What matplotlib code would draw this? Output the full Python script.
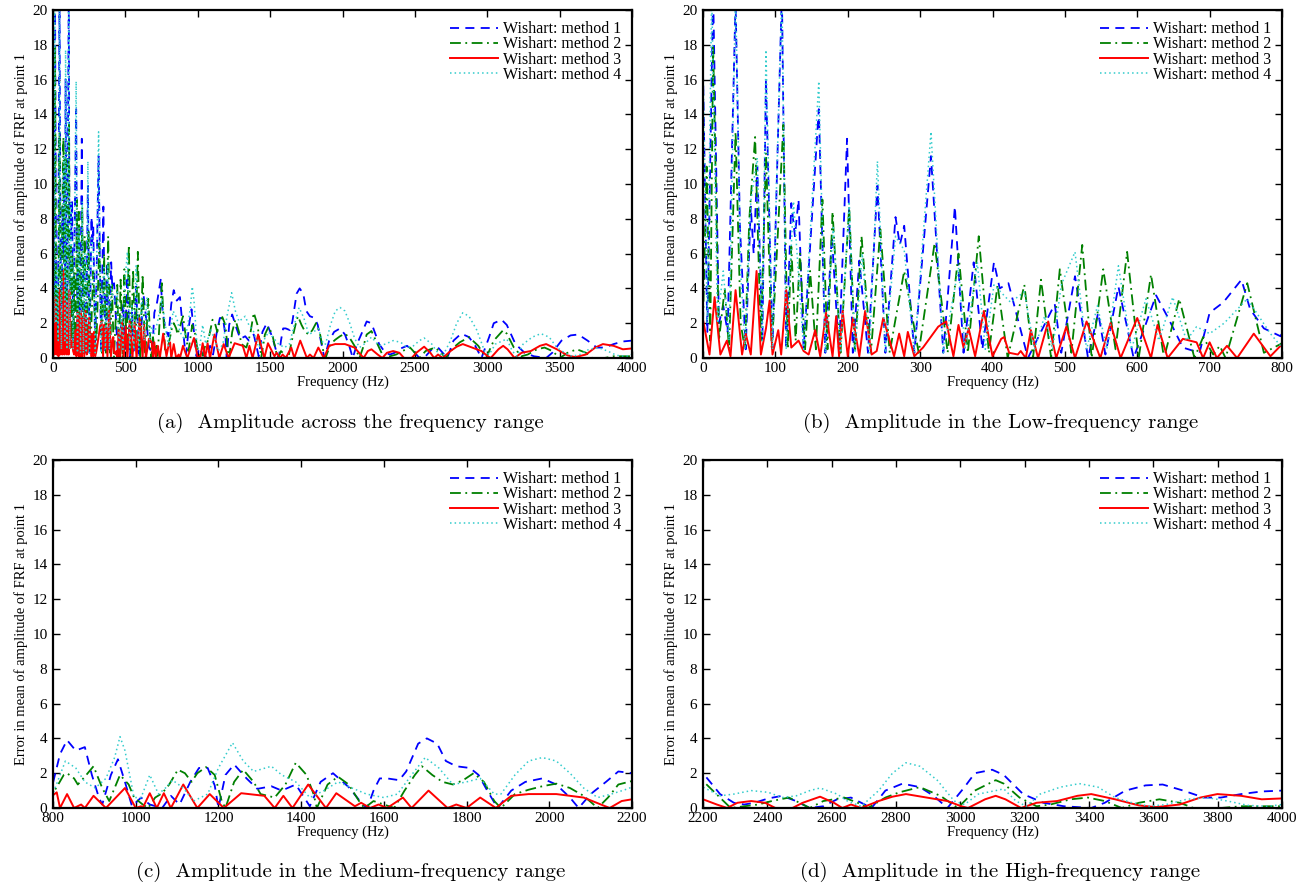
import matplotlib
matplotlib.use('Agg')
import matplotlib.pyplot as plt

# --- DATA ---
m1_freq = [0, 6, 14, 22, 28, 34, 45, 51, 59, 66, 70, 75, 82, 87, 96, 101, 109, 115, 122, 127,
           132, 139, 160, 169, 178, 188, 199, 207, 216, 228, 241, 252, 266, 272, 278, 292, 315,
           332, 348, 360, 374, 386, 402, 410, 422, 449, 486, 495, 514, 532, 546, 556, 574, 595,
           626, 644, 663, 686, 700, 719, 744, 756, 775, 798,
           817, 834, 855, 877, 894, 911, 919, 940, 957, 974, 991, 1013, 1034, 1064, 1085, 1106,
           1132, 1153, 1174, 1191, 1200, 1217, 1238, 1268, 1294, 1328, 1353, 1387, 1421, 1447,
           1477, 1515, 1549, 1560, 1575, 1590, 1608, 1637, 1654, 1683, 1704, 1729, 1750, 1775,
           1808, 1829, 1850, 1875, 1908, 1942, 1983, 2017, 2050, 2071, 2100, 2137, 2167, 2200,
           2253, 2296, 2328, 2360, 2403, 2446, 2489, 2532, 2574, 2617, 2660, 2703, 2724, 2767,
           2820, 2874, 2917, 2960, 3013, 3045, 3099, 3135, 3195, 3258, 3322, 3407, 3449, 3513,
           3576, 3629, 3693, 3757, 3810, 3873, 3937, 4000]
m1_err = [16.5, 1.5, 21, 2.0, 3.0, 1.5, 20.5, 7.6, 0.5, 8.7, 6.0, 11.0, 1.0, 16.0, 0.5, 8.7, 21, 0.5, 8.9, 7.0,
          9.1, 0.5, 14.3, 0.3, 7.0, 0.3, 12.6, 0.3, 5.6, 0.3, 9.9, 0.3, 8.1, 6.5, 7.6, 0.3, 11.6,
          0.3, 8.7, 0.3, 5.5, 0.5, 5.5, 4.0, 4.3, 0.0, 3.1, 0.3, 4.7, 0.0, 2.6, 0.2, 4.1, 0.0,
          3.6, 2.2, 0.6, 0.3, 2.6, 3.2, 4.5, 2.8, 1.7, 1.25,
          3.1, 3.9, 3.3, 3.5, 1.9, 0.6, 0.2, 1.9, 2.8, 1.5, 0.1, 0.6, 0.2, 0.0, 0.7, 0.2,
          1.5, 2.3, 2.3, 1.3, 0.0, 1.9, 2.5, 1.7, 1.1, 1.25, 1.0, 1.35, 0.1, 1.5,
          2.0, 1.2, 0.2, 0.0, 1.0, 1.7, 1.7, 1.6, 2.1, 3.7, 4.0, 3.7, 2.7, 2.4,
          2.3, 1.9, 1.0, 0.0, 1.0, 1.5, 1.7, 1.35, 0.6, 0.0, 0.8, 1.5, 2.1, 2.0,
          0.8, 0.3, 0.2, 0.3, 0.55, 0.7, 0.4, 0.0, 0.1, 0.5, 0.6, 0.2, 0.0, 1.0,
          1.4, 1.2, 0.7, 0.0, 1.2, 2.0, 2.2, 1.9, 0.8, 0.3, 0.1, 0.0, 0.3, 1.0,
          1.3, 1.35, 1.0, 0.6, 0.6, 0.8, 0.95, 1.0]

m2_freq = [0, 5, 10, 14, 22, 30, 36, 45, 52, 58, 64, 72, 80, 87, 95, 102, 111, 117, 122, 128,
           134, 141, 148, 156, 165, 172, 179, 190, 202, 210, 219, 232, 245, 258, 265, 278, 298,
           320, 338, 353, 366, 381, 395, 407, 421, 444, 456, 467, 481, 493, 509, 524, 537, 553,
           570, 586, 602, 619, 637, 658, 679, 691, 705, 714, 722, 752, 775, 798,
           809, 826, 834, 851, 860, 877, 898, 919, 936, 962, 983, 996, 1017, 1030, 1047, 1064,
           1081, 1102, 1119, 1135, 1149, 1170, 1191, 1208, 1217, 1238, 1260, 1285, 1302, 1336,
           1362, 1387, 1413, 1430, 1438, 1464, 1489, 1515, 1540, 1553, 1575, 1600, 1625, 1650,
           1675, 1692, 1717, 1742, 1767, 1792, 1817, 1842, 1867, 1883, 1917, 1950, 1983, 2017,
           2050, 2083, 2117, 2142, 2167, 2200,
           2253, 2286, 2328, 2371, 2414, 2467, 2500, 2532, 2574, 2639, 2681, 2713, 2767, 2810,
           2874, 2938, 2992, 3045, 3110, 3135, 3184, 3237, 3280, 3343, 3396, 3449, 3502, 3555,
           3619, 3682, 3725, 3810, 3873, 3958, 4000]
m2_err = [2.0, 11.0, 1.0, 18.0, 1.0, 4.0, 0.5, 13.0, 2.0, 0.5, 8.0, 12.7, 1.0, 11.8, 0.5, 6.0, 13.4, 0.5, 6.4, 1.0,
          6.0, 0.5, 5.0, 0.5, 9.1, 0.5, 8.4, 0.3, 8.7, 0.3, 7.0, 0.3, 7.4, 0.3, 2.0, 5.0, 0.3,
          6.6, 0.3, 6.0, 0.3, 7.0, 0.3, 4.2, 0.0, 4.2, 0.0, 4.5, 0.0, 5.1, 0.3, 6.5, 0.0, 5.1,
          0.5, 6.1, 0.0, 4.8, 0.0, 3.4, 0.0, 1.2, 0.2, 0.7, 0.0, 4.3, 0.3, 0.8,
          1.2, 1.9, 2.0, 1.7, 1.35, 1.8, 2.4, 1.15, 0.4, 1.9, 1.35, 0.6, 0.2, 0.0, 0.6, 0.85,
          1.35, 2.2, 2.0, 1.5, 2.0, 2.35, 1.9, 0.4, 0.0, 1.5, 2.2, 1.5, 0.8, 0.6,
          1.35, 2.6, 1.9, 0.8, 0.0, 1.35, 1.8, 1.35, 0.4, 0.0, 0.4, 0.2, 0.0, 1.0,
          1.9, 2.4, 1.9, 1.5, 1.35, 1.6, 2.0, 1.5, 0.4, 0.0, 0.8, 1.05, 1.25, 1.4,
          1.15, 0.7, 0.0, 0.6, 1.35, 1.55,
          0.6, 0.0, 0.1, 0.2, 0.4, 0.6, 0.3, 0.0, 0.4, 0.6, 0.3, 0.0, 0.6, 0.9,
          1.2, 0.7, 0.0, 1.0, 1.6, 1.4, 0.6, 0.1, 0.2, 0.5, 0.6, 0.4, 0.0, 0.3,
          0.5, 0.3, 0.0, 0.0, 0.1, 0.1, 0.1]

m3_freq = [0, 9, 16, 24, 33, 38, 45, 54, 59, 66, 74, 80, 87, 92, 96, 104, 108, 115, 122, 132,
           139, 146, 155, 162, 170, 179, 184, 188, 193, 200, 207, 216, 224, 233, 240, 249, 264,
           271, 278, 283, 292, 304, 325, 336, 346, 353, 360, 367, 376, 388, 400, 412, 416, 423,
           435, 439, 446, 453, 463, 477, 488, 502, 514, 530, 549, 563, 577, 600, 619, 628, 642,
           663, 682, 691, 700, 710, 724, 738, 761, 784, 798,
           809, 817, 834, 851, 868, 877, 898, 928, 974, 1000, 1013, 1017, 1034, 1051, 1068, 1085,
           1115, 1149, 1179, 1213, 1255, 1311, 1336, 1357, 1379, 1417, 1460, 1485, 1530, 1545,
           1567, 1587, 1608, 1646, 1667, 1708, 1754, 1775, 1800, 1833, 1871, 1908, 1950, 2017,
           2083, 2146, 2175, 2200,
           2243, 2275, 2307, 2350, 2393, 2425, 2478, 2510, 2564, 2607, 2633, 2660, 2692, 2746,
           2789, 2831, 2896, 2960, 3003, 3024, 3077, 3110, 3140, 3189, 3237, 3301, 3364, 3407,
           3481, 3555, 3608, 3682, 3746, 3799, 3873, 3937, 4000]
m3_err = [2.2, 0.2, 3.5, 0.2, 1.0, 0.1, 3.9, 0.2, 1.4, 0.2, 5.0, 0.2, 1.7, 3.3, 0.2, 1.6, 0.2, 3.9, 0.6, 1.0,
          0.4, 0.2, 1.6, 0.1, 2.6, 0.1, 2.4, 0.1, 2.7, 0.1, 2.3, 0.1, 2.7, 0.2, 0.4, 2.3, 0.1,
          1.4, 0.1, 1.5, 0.1, 0.6, 1.8, 2.1, 0.1, 1.9, 0.6, 1.7, 0.1, 2.7, 0.1, 1.1, 1.2, 0.3,
          0.2, 0.4, 0.0, 1.6, 0.0, 2.1, 0.0, 1.8, 0.0, 2.1, 0.0, 2.0, 0.0, 2.3, 0.0, 1.9, 0.0,
          1.1, 0.9, 0.0, 0.9, 0.0, 0.7, 0.0, 1.4, 0.1, 0.7,
          0.9, 0.0, 0.8, 0.0, 0.2, 0.0, 0.7, 0.0, 1.15, 0.0, 0.1, 0.0, 0.85, 0.0, 0.85, 0.0,
          1.35, 0.0, 0.8, 0.0, 0.85, 0.7, 0.0, 0.7, 0.0, 1.35, 0.0, 0.85, 0.1, 0.3,
          0.0, 0.2, 0.0, 0.6, 0.0, 1.0, 0.0, 0.2, 0.0, 0.6, 0.0, 0.7, 0.8, 0.8,
          0.6, 0.0, 0.4, 0.5,
          0.2, 0.0, 0.3, 0.4, 0.3, 0.0, 0.0, 0.3, 0.65, 0.3, 0.0, 0.2, 0.0, 0.4,
          0.65, 0.8, 0.6, 0.4, 0.1, 0.0, 0.5, 0.7, 0.5, 0.0, 0.3, 0.4, 0.7, 0.8,
          0.5, 0.15, 0.05, 0.2, 0.6, 0.8, 0.7, 0.5, 0.55]

m4_freq = [0, 6, 12, 20, 28, 36, 45, 52, 58, 66, 75, 82, 87, 96, 101, 109, 115, 125, 139, 160,
           169, 180, 190, 202, 210, 220, 230, 241, 252, 266, 278, 292, 315, 332, 353, 362, 379,
           390, 402, 425, 444, 458, 472, 483, 495, 514, 530, 545, 558, 574, 592, 612, 630, 649,
           668, 682, 700, 720, 752, 784, 798,
           817, 830, 855, 877, 902, 928, 949, 962, 974, 996, 1013, 1034, 1055, 1072, 1089, 1115,
           1140, 1174, 1200, 1234, 1260, 1285, 1328, 1353, 1387, 1421, 1455, 1489, 1523, 1558,
           1600, 1633, 1667, 1700, 1733, 1767, 1800, 1833, 1867, 1883, 1917, 1950, 1983, 2017,
           2050, 2083, 2117, 2150, 2183, 2200,
           2253, 2296, 2350, 2403, 2446, 2490, 2532, 2564, 2617, 2649, 2692, 2746, 2789, 2831,
           2874, 2928, 2981, 3013, 3056, 3110, 3135, 3173, 3205, 3248, 3311, 3370, 3428, 3481,
           3534, 3587, 3640, 3703, 3767, 3831, 3894, 3958, 4000]
m4_err = [17.0, 2.0, 21, 2.0, 5.0, 1.0, 21, 5.0, 0.5, 9.0, 11.5, 1.0, 17.7, 0.5, 9.0, 21, 0.5, 9.0, 0.5, 15.9,
          0.3, 7.5, 0.3, 9.0, 0.3, 6.0, 0.3, 11.3, 0.3, 7.0, 6.2, 0.3, 13.0, 0.3, 5.2, 0.5, 5.5,
          0.5, 4.2, 3.2, 3.8, 0.5, 2.4, 0.5, 4.2, 6.1, 0.5, 3.0, 0.5, 5.3, 0.5, 3.4, 1.0, 3.5,
          1.0, 1.8, 1.4, 2.0, 3.4, 1.4, 0.7,
          1.9, 2.7, 2.3, 1.5, 1.15, 1.7, 2.9, 4.1, 3.3, 0.6, 0.6, 1.9, 0.8, 1.15, 1.6, 1.15,
          0.4, 0.8, 2.3, 3.75, 2.7, 2.1, 2.4, 1.9, 1.5, 0.6, 1.0, 1.5, 1.15, 0.8,
          0.6, 0.8, 1.9, 2.9, 2.3, 1.35, 1.5, 1.7, 0.8, 0.8, 1.9, 2.7, 2.9, 2.7,
          2.0, 1.15, 0.6, 0.8, 1.05, 1.2,
          0.7, 0.8, 1.0, 0.9, 0.6, 0.7, 1.0, 1.15, 0.8, 0.4, 0.1, 1.0, 2.0, 2.6,
          2.4, 1.6, 0.4, 0.2, 0.8, 1.0, 1.1, 0.4, 0.1, 0.8, 1.2, 1.4, 1.2, 0.6,
          0.3, 0.1, 0.2, 0.5, 0.6, 0.4, 0.15, 0.1, 0.2]

method_labels = ['Wishart: method 1', 'Wishart: method 2', 'Wishart: method 3', 'Wishart: method 4']

panel_xlim = [(0, 4000), (0, 800), (800, 2200), (2200, 4000)]
panel_xstep = [500, 100, 200, 200]
panel_captions = ['(a)  Amplitude across the frequency range',
                  '(b)  Amplitude in the Low-frequency range',
                  '(c)  Amplitude in the Medium-frequency range',
                  '(d)  Amplitude in the High-frequency range']

# --- STYLE ---
serif = ['Liberation Serif', 'DejaVu Serif']
series = [(m1_freq, m1_err, dict(color='#0000ff', ls=(0, (5, 3.5)), lw=1.3)),
          (m2_freq, m2_err, dict(color='#008000', ls=(0, (6, 2.5, 1, 2.5)), lw=1.3)),
          (m3_freq, m3_err, dict(color='#ff0000', ls='-', lw=1.4)),
          (m4_freq, m4_err, dict(color='#33cccc', ls=(0, (1, 2)), lw=1.1))]

W, H = 1296, 888
fig = plt.figure(figsize=(W / 100, H / 100), dpi=100)

# axes boxes in pixels: left, top, right, bottom
boxes_px = [(53, 10, 632, 358),
            (703, 10, 1282, 358),
            (53, 460, 632, 808),
            (703, 460, 1282, 808)]
caption_y_px = [423, 872]

for i, (l, t, r, b) in enumerate(boxes_px):
    ax = fig.add_axes([l / W, 1 - b / H, (r - l) / W, (b - t) / H])
    for (fx, fy, st), lab in zip(series, method_labels):
        ax.plot(fx, fy, label=lab, **st)
    lo, hi = panel_xlim[i]
    ax.set_xlim(lo, hi)
    ax.set_ylim(0, 20)
    ax.set_xticks(range(lo, hi + 1, panel_xstep[i]))
    ax.set_yticks(range(0, 21, 2))
    ax.tick_params(direction='in', length=5, width=1.0, top=True, right=True,
                   labelsize=11, pad=3)
    ax.tick_params(axis='y', pad=4)
    for lbl in ax.get_xticklabels() + ax.get_yticklabels():
        lbl.set_family(serif)
    for sp in ax.spines.values():
        sp.set_linewidth(1.6)
    ax.set_xlabel('Frequency (Hz)', family=serif, fontsize=10.5, labelpad=0)
    ax.set_ylabel('Error in mean of amplitude of FRF at point 1', family=serif,
                  fontsize=10.5, labelpad=3)
    ax.legend(loc='upper right', frameon=False, prop={'family': serif, 'size': 11.5},
              handlelength=3.0, handletextpad=0.3, labelspacing=-0.05,
              borderaxespad=0.3)
    # caption under each panel
    cx = ((l + r) / 2 + 8) / W
    cy = 1 - caption_y_px[i // 2] / H
    fig.text(cx, cy, panel_captions[i], ha='center', va='center',
             family=['cmr10', 'DejaVu Serif'], fontsize=15)

plt.savefig('out.png', dpi=100)
plt.close()
